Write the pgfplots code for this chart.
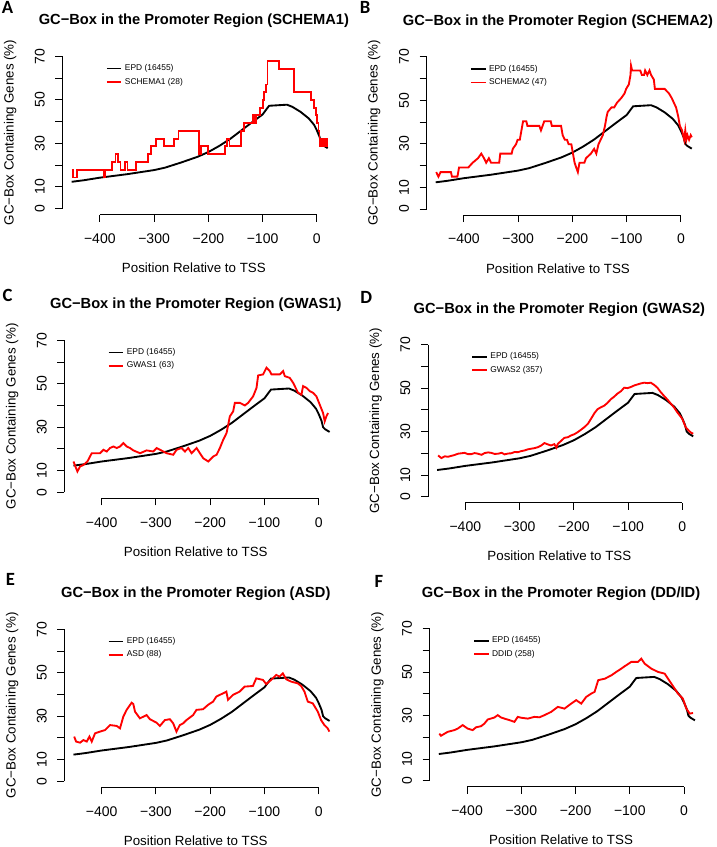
\documentclass[border=0pt]{standalone}
\usepackage{fontspec}
\setmainfont{Liberation Sans}
\newfontfamily\letterfont{Carlito}
\usepackage{pgfplots}
\usepackage{pgfplotstable}
\pgfplotsset{compat=1.18}

\pgfplotstableread{
x y
-452 12.3
-430 13.0
-400 14.2
-350 15.8
-300 17.7
-280 18.8
-250 21.2
-220 23.8
-200 26.0
-180 28.8
-160 32.0
-140 35.8
-120 39.6
-100 43.3
-92 46.0
-88 47.3
-75 47.5
-55 47.8
-45 46.8
-30 44.5
-15 41.5
-5 38.5
0 36.0
5 33.0
8 30.0
12 29.0
20 27.8
}\epd

\pgfplotsset{
  panel/.style={
    scale only axis, width=206.55pt, height=123.15pt,
    xmin=-468.8, xmax=38.8, ymin=-2.8, ymax=72.8,
    clip=false,
    axis line style={draw=none},
    xtick={-400,-300,-200,-100,0},
    xticklabels={−400,−300,−200,−100,0},
    ytick={0,10,20,30,40,50,60,70},
    yticklabels={0,10,,30,,50,,70},
    xtick pos=left, ytick pos=left,
    tick align=outside, major tick length=5.25pt,
    tick style={black, line width=0.75pt},
    every tick label/.append style={font=\fontsize{10.5}{12}\selectfont},
    xticklabel shift=5.5pt, yticklabel shift=4.5pt,
    yticklabel style={rotate=90, anchor=south},
    title style={at={(axis description cs:0.477,1.19)}, anchor=center, yshift=-7.5pt, font=\bfseries\fontsize{11}{13}\selectfont},
    xlabel style={at={(axis description cs:0.477,-0.325)}, anchor=center, font=\fontsize{10}{12}\selectfont},
    ylabel style={at={(axis description cs:-0.19,0.5)}, anchor=center, font=\fontsize{10}{12}\selectfont},
    xlabel={Position Relative to TSS},
    ylabel={GC−Box Containing Genes (\%)},
    legend style={draw=none, fill=none, at={(axis description cs:0.157,0.932)}, anchor=north west,
      font=\fontsize{6.3}{7.5}\selectfont, row sep=0pt, inner sep=0pt},
    legend cell align=left,
    legend image code/.code={\draw[#1, line width=1.2pt] (0pt,0pt) -- (11pt,0pt);},
  },
  epdline/.style={black, line width=1.4pt},
  redline/.style={red, line width=1.4pt},
}
\newcommand\axislines{%
  \draw[line width=0.75pt] (axis cs:-400,-2.8) -- (axis cs:0,-2.8);
  \draw[line width=0.75pt] (axis cs:-468.8,0) -- (axis cs:-468.8,70);}

\begin{document}
\begin{tikzpicture}
\path[use as bounding box] (0,0) rectangle (537.75pt,-635.25pt);

% Panel A
\begin{axis}[panel, at={(46.875pt,-160.95pt)}, anchor=south west,
  title={GC−Box in the Promoter Region (SCHEMA1)}]
\addplot[epdline] table {\epd};
\addlegendentry{EPD (16455)}
\addplot[redline, const plot mark left] coordinates {
(-452,17.9) (-449,14.3) (-442,17.9) (-393,14.3) (-390,17.9) (-377,21.4) (-371,25.0)
(-366,21.4) (-362,17.9) (-354,21.4) (-349,17.9) (-334,21.4) (-312,25.0) (-306,28.6)
(-297,32.1) (-281,28.6) (-263,32.1) (-255,35.7) (-218,25.0) (-213,28.6) (-201,25.0)
(-170,28.6) (-165,32.1) (-161,28.6) (-140,35.7) (-134,39.3) (-118,42.9) (-115,39.3)
(-112,42.9) (-104,46.4) (-100,50.0) (-97,53.6) (-94,57.1) (-91,67.9) (-69,64.3)
(-42,53.6) (-10,50.0) (-5,46.4) (-2,42.9) (1,39.3) (3,35.7) (5,28.6) (8,32.1)
(11,28.6) (15,32.1) (18,28.6) (20,28.6)};
\addlegendentry{SCHEMA1 (28)}
\axislines
\end{axis}

% Panel B
\begin{axis}[panel, at={(319.95pt,-161.325pt)}, anchor=south west,
  title={GC−Box in the Promoter Region (SCHEMA2)}]
\addplot[epdline] table {\epd};
\addlegendentry{EPD (16455)}
\addplot[redline] coordinates {
(-451,17.0) (-447,14.9) (-443,17.0) (-424,17.0) (-422,14.9) (-412,14.9) (-409,19.1)
(-392,19.1) (-384,21.3) (-374,23.4) (-368,25.5) (-363,23.4) (-359,21.3) (-354,23.4)
(-350,21.3) (-335,21.3) (-333,25.5) (-312,25.5) (-310,27.7) (-304,29.8) (-301,31.9)
(-297,31.9) (-294,36.2) (-291,40.4) (-285,40.4) (-283,38.3) (-261,38.3) (-258,36.2)
(-255,38.3) (-252,40.4) (-240,40.4) (-238,38.3) (-221,38.3) (-218,34.0) (-214,31.9)
(-210,31.9) (-207,29.8) (-202,29.8) (-199,25.5) (-196,21.3) (-193,19.1) (-190,17.0)
(-187,21.3) (-178,21.3) (-175,23.4) (-166,25.5) (-160,27.7) (-156,25.5) (-152,29.8)
(-148,31.9) (-144,34.0) (-140,38.3) (-137,42.6) (-135,44.7) (-128,46.8) (-123,46.8)
(-118,48.9) (-110,51.1) (-104,53.2) (-101,55.3) (-96,57.4) (-93,61.7) (-92,66.0)
(-90,63.8) (-75,63.8) (-72,61.7) (-68,61.7) (-66,63.8) (-62,61.7) (-58,63.8)
(-55,61.7) (-50,59.6) (-48,55.3) (-30,55.3) (-22,53.2) (-17,51.1) (-13,48.9)
(-9,46.8) (-5,42.6) (-2,38.3) (2,36.2) (4,34.0) (6,31.9) (8,36.2) (10,31.9)
(12,34.0) (15,31.9) (18,34.0) (20,33.0)};
\addlegendentry{SCHEMA2 (47)}
\axislines
\end{axis}

% Panel C
\begin{axis}[panel, at={(48.3pt,-373.8pt)}, anchor=south west,
  title={GC−Box in the Promoter Region (GWAS1)}]
\addplot[epdline] table {\epd};
\addlegendentry{EPD (16455)}
\addplot[redline] coordinates {
(-452.1,14.2) (-444.8,9.6) (-439.9,11.9) (-433.7,12.6) (-426.4,14.2) (-418.4,18.0)
(-403.1,18.0) (-396.9,19.6) (-390.8,18.8) (-384.7,20.4) (-378.5,21.1) (-372.4,20.4)
(-366.3,21.1) (-360.1,22.7) (-354.0,21.1) (-347.9,20.4) (-341.7,19.3) (-329.4,18.0)
(-317.2,19.3) (-304.9,18.8) (-298.8,20.4) (-292.6,19.6) (-280.4,18.0) (-268.1,17.3)
(-262.0,19.6) (-252.8,20.4) (-246.6,18.8) (-240.5,20.4) (-234.4,18.0) (-225.2,20.4)
(-219.0,18.0) (-212.9,15.7) (-203.7,14.2) (-194.5,16.5) (-188.3,17.3) (-182.2,20.4)
(-176.1,24.2) (-169.9,27.3) (-163.8,35.0) (-157.7,37.3) (-154.6,41.2) (-145.4,41.2)
(-136.2,40.0) (-130.1,41.2) (-120.9,44.2) (-114.7,48.1) (-111.7,53.8) (-102.5,54.3)
(-96.3,57.4) (-90.2,55.8) (-87.1,54.3) (-71.8,54.3) (-65.6,55.8) (-62.6,53.5)
(-53.4,52.7) (-47.2,50.4) (-38.0,45.8) (-31.9,45.0) (-28.8,48.9) (-22.7,48.1)
(-16.6,46.6) (-10.4,45.8) (-4.3,44.2) (1.8,40.4) (8.0,36.5) (11.0,32.7) (14.1,35.0)
(17.2,36.5)};
\addlegendentry{GWAS1 (63)}
\axislines
\end{axis}

% Panel D
\begin{axis}[panel, at={(321pt,-377.1pt)}, anchor=south west,
  title={GC−Box in the Promoter Region (GWAS2)}]
\addplot[epdline] table {\epd};
\addlegendentry{EPD (16455)}
\addplot[redline] coordinates {
(-450.2,19.0) (-444.1,17.8) (-438,18.6) (-431.9,18.4) (-420,19.2) (-413.5,19.8)
(-401.2,20.2) (-395,19.6) (-389,19.6) (-383,20.1) (-376.7,19.8) (-370,19.3)
(-364.5,20.1) (-358,20.4) (-352.2,20.2) (-346,19.7) (-340,19.8) (-333,20.2)
(-327.7,19.5) (-321,19.9) (-315.5,20.0) (-309,20.6) (-303.2,20.5) (-297,21.0)
(-291,21.3) (-285,21.8) (-278.7,22.1) (-272,22.4) (-266.5,22.8) (-260,23.6)
(-254.2,24.7) (-248,24.1) (-242,23.6) (-236,24.2) (-232,22.6) (-229.7,24.3)
(-224,25.6) (-217.5,27.1) (-211,27.4) (-205.2,28.2) (-199,28.8) (-193,29.7)
(-187,30.8) (-180.7,32.0) (-174,33.6) (-168.5,35.8) (-162,38.5) (-156.3,40.3)
(-150,41.2) (-144,41.9) (-138,43.2) (-131.7,44.9) (-126,46.0) (-119.5,47.5)
(-113,48.6) (-107.2,50.2) (-101,50.0) (-95.0,50.5) (-89,51.2) (-82.7,51.7)
(-76,52.2) (-70.4,52.5) (-64,52.3) (-58.2,52.5) (-52,51.5) (-46.0,50.2)
(-40,48.2) (-33.7,46.4) (-27,44.6) (-21.4,42.9) (-15,41.0) (-9.2,38.8)
(-4,37.2) (0,35.8) (6.1,32.0) (12,30.4) (15.3,29.6) (20,29.0)};
\addlegendentry{GWAS2 (357)}
\axislines
\end{axis}

% Panel E
\begin{axis}[panel, at={(48.3pt,-590.55pt)}, anchor=south west,
  title={GC−Box in the Promoter Region (ASD)}]
\addplot[epdline] table {\epd};
\addlegendentry{EPD (16455)}
\addplot[redline] coordinates {
(-450.8,20.6) (-447.2,18.3) (-439.8,17.8) (-433.7,19.0) (-427.6,18.3) (-422.7,20.6)
(-418.4,18.3) (-412.3,22.1) (-403.1,22.9) (-393.9,23.6) (-384.7,25.9) (-372.4,25.5)
(-366.3,24.4) (-360.2,29.8) (-354.1,32.9) (-344.9,36.2) (-341.8,35.6) (-338.7,32.1)
(-329.6,29.0) (-317.3,30.5) (-311.2,28.6) (-298.9,27.0) (-292.8,25.5) (-283.6,28.2)
(-274.4,28.6) (-268.3,26.7) (-262.2,22.9) (-256.1,25.9) (-249.9,26.7) (-243.8,28.2)
(-231.6,30.5) (-225.4,32.9) (-213.2,33.2) (-204.0,35.2) (-194.8,36.7) (-188.7,39.0)
(-182.5,39.8) (-176.4,40.5) (-170.3,41.3) (-167.2,37.5) (-158.0,39.8) (-145.8,41.3)
(-136.6,43.6) (-121.3,43.9) (-115.2,47.4) (-102.9,46.7) (-96.8,44.8) (-87.6,46.7)
(-78.4,49.0) (-72.3,48.2) (-66.2,49.7) (-60.0,47.0) (-50.8,45.9) (-38.6,45.1)
(-32.5,43.9) (-26.3,41.3) (-20.2,36.7) (-11.0,35.9) (-1.8,32.1) (4.3,28.2)
(10.4,25.9) (16.5,24.4) (19.6,22.9)};
\addlegendentry{ASD (88)}
\axislines
\end{axis}

% Panel F
\begin{axis}[panel, at={(322.275pt,-590.1pt)}, anchor=south west,
  title={GC−Box in the Promoter Region (DD/ID)}]
\addplot[epdline] table {\epd};
\addlegendentry{EPD (16455)}
\addplot[redline] coordinates {
(-451.1,21.7) (-448.0,20.7) (-435.7,22.5) (-423.4,23.3) (-417.2,24.0) (-408.0,25.6)
(-398.8,24.0) (-389.5,23.3) (-383.4,24.6) (-374.2,25.1) (-368.0,26.3) (-361.8,28.2)
(-349.5,29.1) (-343.4,30.2) (-337.2,29.1) (-331.1,28.6) (-321.8,27.9) (-312.6,27.1)
(-306.5,29.4) (-300.3,29.0) (-288.0,28.6) (-275.7,29.4) (-266.5,29.2) (-257.2,30.2)
(-244.9,31.7) (-232.6,34.0) (-220.3,33.2) (-208.0,35.5) (-198.8,37.1) (-189.5,35.5)
(-180.3,38.6) (-171.2,40.1) (-164.9,40.9) (-158.2,46.3) (-145.8,47.0) (-133.5,48.6)
(-124.9,50.1) (-115.7,51.6) (-109.5,52.7) (-97.2,54.7) (-84.9,54.7) (-78.8,56.2)
(-72.6,53.9) (-60.3,51.6) (-48.0,50.1) (-35.7,49.3) (-23.4,44.7) (-11.1,40.1)
(-2.2,37.8) (4.3,33.2) (10.5,30.9) (16.6,31.2)};
\addlegendentry{DDID (258)}
\axislines
\end{axis}

\node[font=\letterfont\bfseries\fontsize{14}{16}\selectfont] at (5.63pt,-5.63pt) {A};
\node[font=\letterfont\bfseries\fontsize{14}{16}\selectfont] at (273.75pt,-5.63pt) {B};
\node[font=\letterfont\bfseries\fontsize{14}{16}\selectfont] at (5.63pt,-221.25pt) {C};
\node[font=\letterfont\bfseries\fontsize{14}{16}\selectfont] at (274.7pt,-222.75pt) {D};
\node[font=\letterfont\bfseries\fontsize{14}{16}\selectfont] at (7.9pt,-434.25pt) {E};
\node[font=\letterfont\bfseries\fontsize{14}{16}\selectfont] at (284.25pt,-435.75pt) {F};
\end{tikzpicture}
\end{document}
